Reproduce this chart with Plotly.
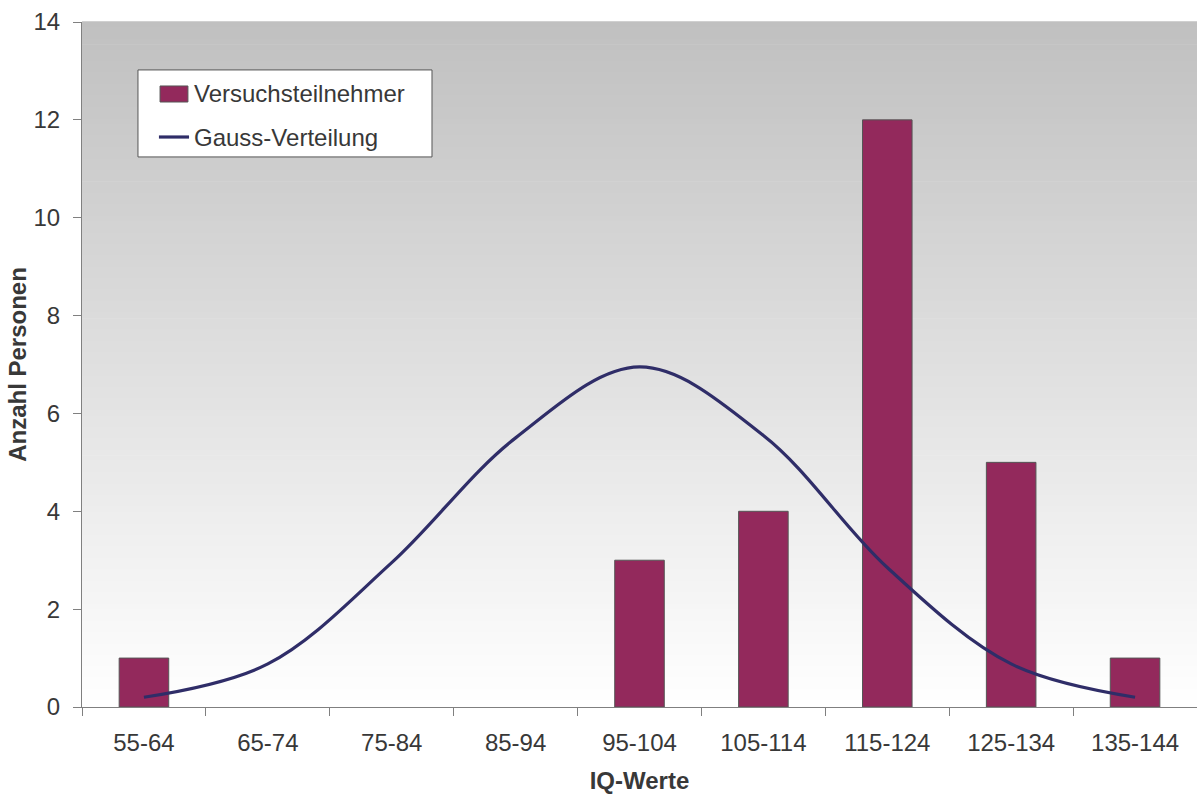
import plotly.graph_objects as go

# IQ bins, observed counts and the fitted normal curve
iq_bins = ["55-64", "65-74", "75-84", "85-94", "95-104", "105-114", "115-124", "125-134", "135-144"]
participants = [1, 0, 0, 0, 3, 4, 12, 5, 1]
gauss_curve = [0.2, 0.88, 2.95, 5.5, 6.95, 5.55, 2.85, 0.88, 0.2]

bar_color = "#93295C"
bar_edge = "#555555"
line_color = "#2F2D68"
text_color = "#383838"
axis_color = "#808080"
font_family = "Liberation Sans, Arial, sans-serif"
font_size = 24

fig = go.Figure()

fig.add_trace(go.Bar(
    x=iq_bins, y=participants, name="Versuchsteilnehmer",
    marker=dict(color=bar_color,
                line=dict(color=bar_edge, width=[1 if v > 0 else 0 for v in participants])),
    showlegend=False,
))
fig.add_trace(go.Scatter(
    x=iq_bins, y=gauss_curve, name="Gauss-Verteilung", mode="lines",
    line=dict(color=line_color, width=3.2, shape="spline", smoothing=1.0),
    showlegend=False,
))

# vertical grey-to-white gradient behind the plot area
n_strips = 120
shapes = []
for i in range(n_strips):
    t = i / (n_strips - 1)
    v = int(round(192 + (255 - 192) * t))
    shapes.append(dict(
        type="rect", xref="x domain", yref="y domain", layer="below",
        x0=0, x1=1, y0=1 - (i + 1) / n_strips, y1=1 - i / n_strips + 0.001,
        fillcolor=f"rgb({v},{v},{v})", line=dict(width=0),
    ))

# legend box with a bar swatch and a line swatch
shapes.append(dict(type="rect", xref="x domain", yref="y domain", layer="above",
                   x0=0.0502, x1=0.3139, y0=0.803, y1=0.930,
                   fillcolor="white", line=dict(color="#555555", width=1)))
shapes.append(dict(type="rect", xref="x domain", yref="y domain", layer="above",
                   x0=0.0700, x1=0.0950, y0=0.8832, y1=0.9066,
                   fillcolor=bar_color, line=dict(color=bar_edge, width=1)))
shapes.append(dict(type="line", xref="x domain", yref="y domain", layer="above",
                   x0=0.0690, x1=0.0960, y0=0.8321, y1=0.8321,
                   line=dict(color=line_color, width=3.2)))
annotations = [
    dict(text="Versuchsteilnehmer", xref="x domain", yref="y domain",
         x=0.0985, y=0.8960, xanchor="left", yanchor="middle", showarrow=False,
         font=dict(size=font_size, color=text_color)),
    dict(text="Gauss-Verteilung", xref="x domain", yref="y domain",
         x=0.0985, y=0.8310, xanchor="left", yanchor="middle", showarrow=False,
         font=dict(size=font_size, color=text_color)),
]

fig.update_layout(
    width=1197, height=794,
    margin=dict(l=82, r=0, t=22, b=87),
    paper_bgcolor="white", plot_bgcolor="white",
    font=dict(family=font_family, size=font_size, color=text_color),
    bargap=0.6,
    shapes=shapes,
    annotations=annotations,
    showlegend=False,
    xaxis=dict(
        title=dict(text="<b>IQ-Werte</b>", font=dict(size=font_size, color=text_color), standoff=20),
        showline=True, linecolor=axis_color, linewidth=1,
        ticks="outside", ticklen=8, tickcolor=axis_color, tickson="boundaries",
        ticklabelstandoff=14,
        showgrid=False, zeroline=False,
    ),
    yaxis=dict(
        title=dict(text="<b>Anzahl Personen</b>", font=dict(size=font_size, color=text_color), standoff=0),
        range=[0, 14], dtick=2,
        showline=True, linecolor=axis_color, linewidth=1,
        ticks="outside", ticklen=8, tickcolor=axis_color,
        ticklabelstandoff=8,
        showgrid=False, zeroline=False,
    ),
)

fig.write_html("out.html")
